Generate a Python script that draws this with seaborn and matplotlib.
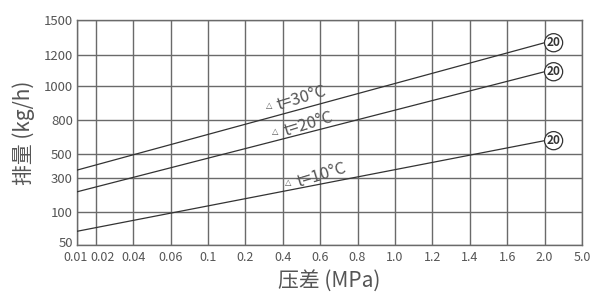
import numpy as np
import pandas as pd
import matplotlib
matplotlib.use("Agg")
import matplotlib.pyplot as plt
import matplotlib.transforms as mtransforms
import seaborn as sns

sns.set_style("white")
plt.rcParams["font.family"] = ["Noto Sans CJK SC", "DejaVu Sans"]

# axis ticks (the chart uses an uneven, hand-drawn scale)
x_ticks = [0.01, 0.02, 0.04, 0.06, 0.1, 0.2, 0.4, 0.6, 0.8, 1.0, 1.2, 1.4, 1.6, 2.0, 5.0]
x_labels = ["0.01", "0.02", "0.04", "0.06", "0.1", "0.2", "0.4", "0.6", "0.8",
            "1.0", "1.2", "1.4", "1.6", "2.0", "5.0"]
x_pos = [0, 0.5, 1.5, 2.5, 3.5, 4.5, 5.5, 6.5, 7.5, 8.5, 9.5, 10.5, 11.5, 12.5, 13.5]
y_ticks = [50, 100, 300, 500, 800, 1000, 1200, 1500]
y_pos = [0, 0.145, 0.296, 0.406, 0.554, 0.708, 0.843, 1.0]

# discharge lines (end points)
pressure = [0.01, 2.0]
flow_30 = [367, 1307]
flow_20 = [221, 1092]
flow_10 = [71, 617]
temps = ["t=30°C", "t=20°C", "t=10°C"]

df = pd.DataFrame({
    "p": pressure * 3,
    "q": flow_30 + flow_20 + flow_10,
    "t": [temps[0]] * 2 + [temps[1]] * 2 + [temps[2]] * 2,
})

fig = plt.figure(figsize=(6.11, 3.0), dpi=100)
ax = fig.add_axes([77 / 611, 55 / 300, 505 / 611, 225 / 300])

ax.set_xscale("function", functions=(lambda v: np.interp(v, x_ticks, x_pos),
                                     lambda v: np.interp(v, x_pos, x_ticks)))
ax.set_yscale("function", functions=(lambda v: np.interp(v, y_ticks, y_pos),
                                     lambda v: np.interp(v, y_pos, y_ticks)))
ax.set_xlim(0.01, 5.0)
ax.set_ylim(50, 1500)

sns.lineplot(data=df, x="p", y="q", units="t", estimator=None, color="#333333",
             lw=0.9, legend=False, ax=ax, zorder=3)

ax.set_xticks(x_ticks)
ax.set_xticklabels(x_labels)
ax.set_yticks(y_ticks)
ax.set_yticklabels([str(v) for v in y_ticks])
ax.minorticks_off()
ax.grid(True, color="#6a6a6a", lw=1.0)
ax.tick_params(length=0, labelsize=9.5, labelcolor="#555555")
ax.tick_params(axis="x", pad=4, labelsize=9)
ax.tick_params(axis="y", pad=3)
for s in ax.spines.values():
    s.set_color("#6a6a6a")
    s.set_linewidth(1.0)

# spread the crowded first two x labels and lift the bottom 50 label
shifts = {0: -1, 1: 7}
for i, dx in shifts.items():
    lab = ax.get_xticklabels()[i]
    lab.set_transform(lab.get_transform() + mtransforms.ScaledTranslation(dx / 100, 0, fig.dpi_scale_trans))
lab = ax.get_yticklabels()[0]
lab.set_transform(lab.get_transform() + mtransforms.ScaledTranslation(0, 3 / 100, fig.dpi_scale_trans))

ax.set_xlabel("压差 (MPa)", fontsize=15, color="#555555", labelpad=5)
ax.set_ylabel("排量 (kg/h)", fontsize=15, color="#555555", labelpad=6)

# temperature labels
label_xy = [(0.4455, 0.651), (0.459, 0.535), (0.485, 0.309)]
tri_xy = [(0.380, 0.618), (0.393, 0.504), (0.418, 0.276)]
for t, (lx, ly), (tx, ty) in zip(temps, label_xy, tri_xy):
    ax.text(lx, ly, t, transform=ax.transAxes, rotation=17, fontsize=12,
            color="#555555", ha="center", va="center", zorder=4)
    ax.text(tx, ty, "△", transform=ax.transAxes, fontsize=6, color="#555555",
            ha="center", va="center", family="DejaVu Sans", zorder=4)

# circled size markers at line ends
for q in [flow_30[-1], flow_20[-1], flow_10[-1]]:
    ax.annotate("20", xy=(pressure[-1], q), xytext=(9, 0), textcoords="offset pixels",
                ha="center", va="center", fontsize=8.5, fontweight="bold", color="#333333",
                bbox=dict(boxstyle="circle,pad=0.18", fc="white", ec="#333333", lw=0.9),
                zorder=5)

fig.savefig("out.png", dpi=100)
